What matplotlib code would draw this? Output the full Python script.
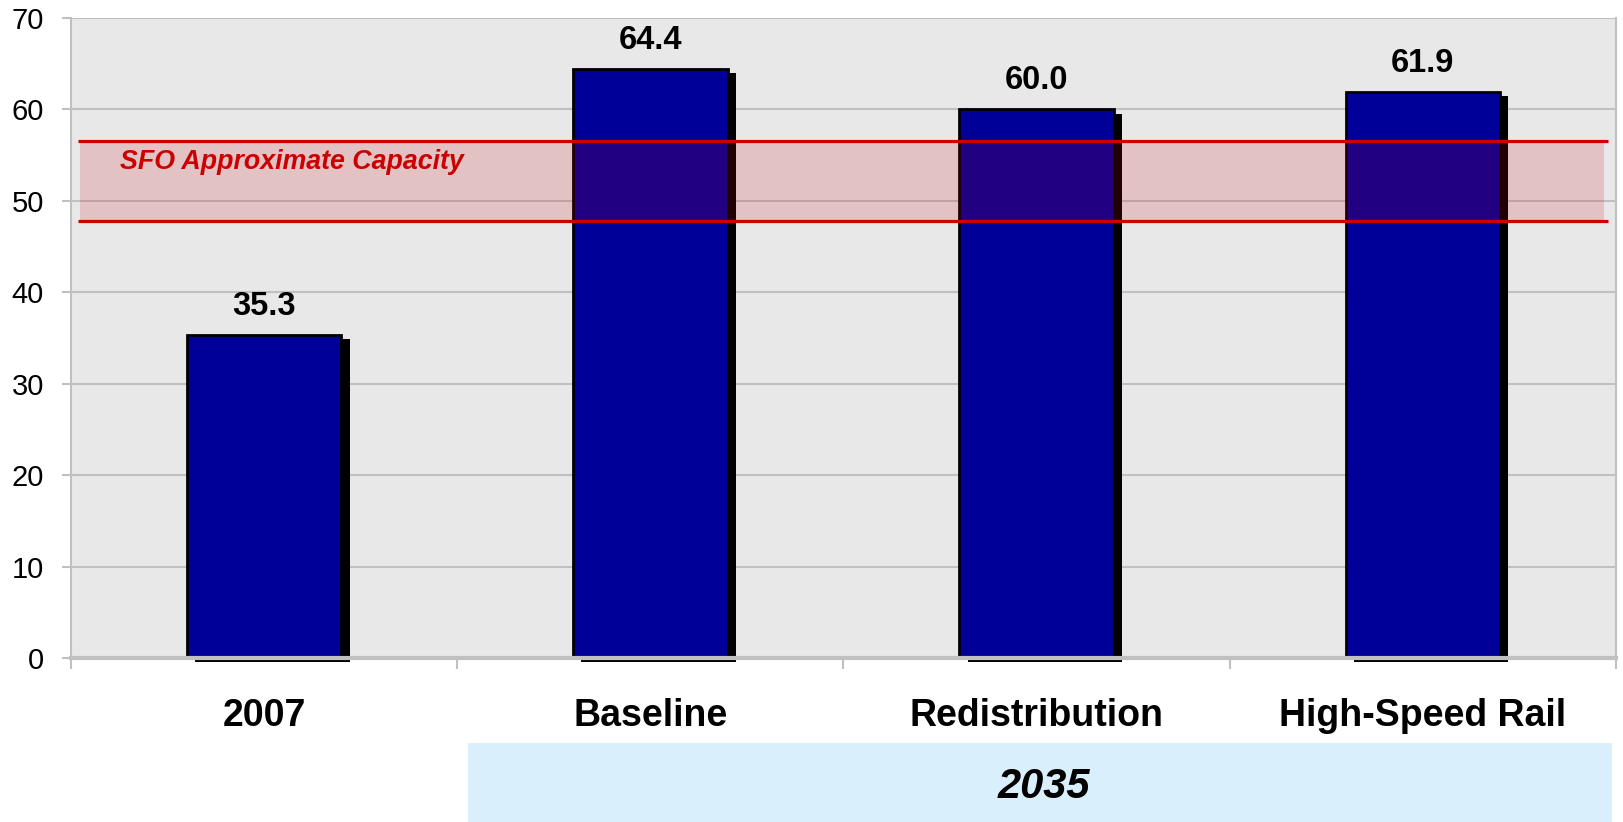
import matplotlib
matplotlib.use("Agg")
import matplotlib.pyplot as plt
from matplotlib.patches import Rectangle
import matplotlib.patheffects as pe

plt.rcParams['font.family'] = ['Liberation Sans', 'DejaVu Sans']

# Data
categories = ["2007", "Baseline", "Redistribution", "High-Speed Rail"]
passengers = [35.3, 64.4, 60.0, 61.9]
capacity_low = 47.8
capacity_high = 56.6
capacity_label = "SFO Approximate Capacity"
group_label = "2035"
y_ticks = [0, 10, 20, 30, 40, 50, 60, 70]

W, H = 1623, 822
DPI = 100
fig = plt.figure(figsize=(W / DPI, H / DPI), dpi=DPI)
fig.patch.set_facecolor("white")

# plot area in pixel terms
left_px, right_px, top_px, bottom_px = 71, 1616, 18, 658
ax = fig.add_axes([left_px / W, 1 - bottom_px / H,
                   (right_px - left_px) / W, (bottom_px - top_px) / H])
ax.set_facecolor("#E8E8E8")

x = list(range(len(categories)))
ax.set_xlim(-0.5, len(categories) - 0.5)
ax.set_ylim(0, 70)

# gridlines
ax.set_yticks(y_ticks)
ax.yaxis.grid(True, color="#C0C0C0", linewidth=1.5)
ax.set_axisbelow(True)

# bars with a hard drop shadow
bars = ax.bar(x, passengers, width=0.4, color="#000099", edgecolor="black",
              linewidth=2, zorder=3)
for b in bars:
    b.set_path_effects([pe.SimplePatchShadow(offset=(6, -3), shadow_rgbFace="black", alpha=1.0),
                        pe.Normal()])
    b.set_clip_on(False)

# value labels
for xi, v in zip(x, passengers):
    ax.annotate(f"{v:.1f}", (xi, v), xytext=(0, 9.5), textcoords="offset points",
                ha="center", va="bottom", fontsize=23.5, fontweight="bold", color="black",
                zorder=6)

# capacity band
ax.fill_between([-0.477, 3.47], capacity_low, capacity_high, color="#CE000D",
                alpha=0.16, linewidth=0, zorder=4)
for yv in (capacity_low, capacity_high):
    ax.plot([-0.482, 3.479], [yv, yv], color="#CC0000", linewidth=2.3, zorder=5,
            solid_capstyle="butt")
ax.text(-0.373, (capacity_low + capacity_high) / 2 + 2.0, capacity_label,
        color="#CC0000", fontsize=19.3, fontweight="bold", style="italic",
        ha="left", va="center", zorder=6)

# spines
for side in ("left", "right", "top"):
    ax.spines[side].set_color("#C0C0C0")
    ax.spines[side].set_linewidth(1.5)
ax.spines["top"].set_visible(False)
ax.spines["bottom"].set_color("#C0C0C0")
ax.spines["bottom"].set_linewidth(3)
ax.spines["bottom"].set_zorder(7)

# y-axis ticks
ax.tick_params(axis="y", direction="out", length=6.5, width=1.5, color="#C0C0C0",
               labelsize=21, pad=13, labelcolor="black")

# x-axis: labels at centres, ticks at category boundaries
ax.set_xticks(x)
ax.set_xticklabels(categories, fontsize=27, fontweight="bold")
ax.tick_params(axis="x", which="major", length=0, pad=29)
ax.set_xticks([i - 0.5 for i in range(len(categories) + 1)], minor=True)
ax.tick_params(axis="x", which="minor", direction="out", length=8, width=1.5,
               color="#C0C0C0")

# group box underneath the 2035 scenarios
box_l, box_r, box_t = 468, 1612, 743
fig.patches.append(Rectangle((box_l / W, 0), (box_r - box_l) / W, 1 - box_t / H,
                             transform=fig.transFigure, facecolor="#DAEFFC",
                             edgecolor="none", zorder=0))
fig.text((box_l + box_r) / 2 / W + 4 / W, 1 - 787 / H, group_label, ha="center", va="center",
         fontsize=30, fontweight="bold", style="italic", color="black")

fig.savefig("out.png", dpi=DPI)
